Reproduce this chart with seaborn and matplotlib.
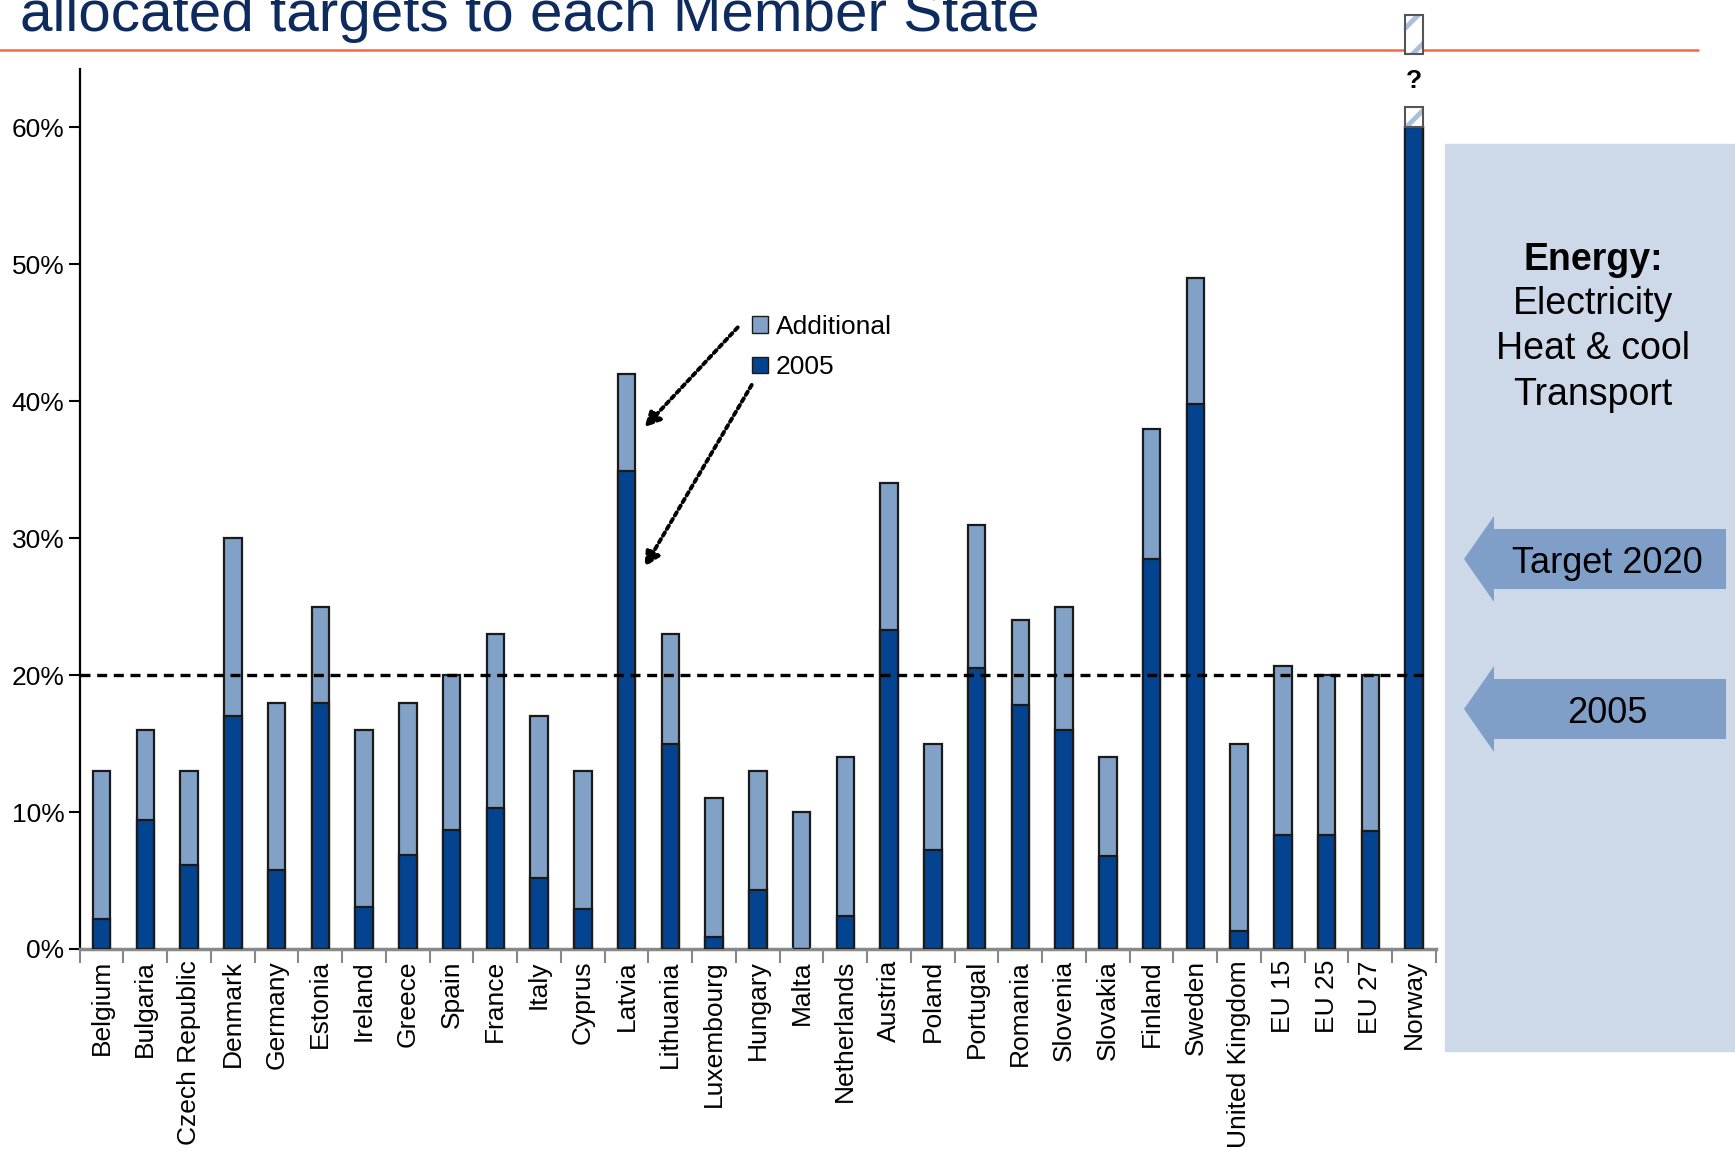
import matplotlib
matplotlib.use('Agg')
import numpy as np
import pandas as pd
import matplotlib.pyplot as plt
import seaborn as sns
from matplotlib.patches import Patch, Rectangle, Polygon
from matplotlib.lines import Line2D

# Data (% renewable share)
countries = ['Belgium', 'Bulgaria', 'Czech Republic', 'Denmark', 'Germany', 'Estonia',
             'Ireland', 'Greece', 'Spain', 'France', 'Italy', 'Cyprus', 'Latvia',
             'Lithuania', 'Luxembourg', 'Hungary', 'Malta', 'Netherlands', 'Austria',
             'Poland', 'Portugal', 'Romania', 'Slovenia', 'Slovakia', 'Finland', 'Sweden',
             'United Kingdom', 'EU 15', 'EU 25', 'EU 27', 'Norway']
share_2005 = [2.2, 9.4, 6.1, 17.0, 5.8, 18.0, 3.1, 6.9, 8.7, 10.3, 5.2, 2.9, 34.9,
              15.0, 0.9, 4.3, 0.0, 2.4, 23.3, 7.2, 20.5, 17.8, 16.0, 6.8, 28.5, 39.8,
              1.3, 8.3, 8.3, 8.6, 60.0]
target_2020 = [13, 16, 13, 30, 18, 25, 16, 18, 20, 23, 17, 13, 42,
               23, 11, 13, 10, 14, 34, 15, 31, 24, 25, 14, 38, 49,
               15, 20.7, 20, 20, 60]
# Norway: target unknown, shown as broken hatched bar
norway_unknown = [(60.0, 61.5), (65.4, 68.2)]
eu_target = 20
yticks = [0, 10, 20, 30, 40, 50, 60]

dark = '#04438F'
light = '#82A1C7'
edge = '#1a1a1a'
arrow_blue = '#7F9FC9'

sns.set_style('white')
plt.rcParams['font.family'] = ['Liberation Sans', 'DejaVu Sans']
plt.rcParams['text.color'] = 'black'
plt.rcParams['xtick.labelcolor'] = 'black'
plt.rcParams['ytick.labelcolor'] = 'black'
plt.rcParams['hatch.linewidth'] = 3.5

W, H = 1735, 1151
fig = plt.figure(figsize=(W / 100, H / 100), dpi=100)
ax = fig.add_axes([79.7 / W, 1 - 949 / H, (1436 - 79.7) / W, (949 - 68.6) / H])

df = pd.DataFrame({'country': countries, 'total': target_2020, 'base': share_2005})
sns.barplot(data=df, x='country', y='total', color=light, saturation=1, width=0.4,
            edgecolor=edge, linewidth=1.6, ax=ax, zorder=2)
sns.barplot(data=df, x='country', y='base', color=dark, saturation=1, width=0.4,
            edgecolor=edge, linewidth=1.6, ax=ax, zorder=3)

# Norway unknown target pieces
nx = countries.index('Norway')
for lo, hi in norway_unknown:
    hb = ax.bar(nx, hi - lo, bottom=lo, width=0.4, color='white', hatch='/',
                edgecolor='#A9C0DD', linewidth=0, zorder=3)
    ob = ax.bar(nx, hi - lo, bottom=lo, width=0.4, fill=False,
                edgecolor='#555555', linewidth=1.5, zorder=4)
    for p in list(hb) + list(ob):
        p.set_clip_on(False)
ax.text(nx, 63.4, '?', ha='center', va='center', fontsize=19, fontweight='bold')

ax.axhline(eu_target, xmin=0, xmax=0.993, color='black', linestyle=(0, (3, 2)),
           lw=2.4, zorder=5)

ax.set_xlim(-0.5, 30.5)
ax.set_ylim(0, 64.3)
ax.set_xlabel('')
ax.set_ylabel('')
ax.set_xticks(range(len(countries)))
ax.set_xticklabels(countries, rotation=90)
ax.set_xticks(np.arange(-0.5, len(countries) + 0.5, 1), minor=True)
ax.tick_params(axis='x', which='major', length=0, pad=8, labelsize=19)
ax.tick_params(axis='x', which='minor', length=10, width=1.5, color='#888888',
               direction='out', bottom=True)
ax.set_yticks(yticks)
ax.set_yticklabels([f'{v}%' for v in yticks])
ax.tick_params(axis='y', length=8, width=1.5, color='black', pad=3, labelsize=19,
               direction='out', left=True)
for s in ['top', 'right']:
    ax.spines[s].set_visible(False)
ax.spines['left'].set_color('black')
ax.spines['left'].set_linewidth(1.6)
ax.spines['bottom'].set_color('#888888')
ax.spines['bottom'].set_linewidth(2.5)

# legend
handles = [Patch(facecolor=light, edgecolor=edge), Patch(facecolor=dark, edgecolor=edge)]
ax.legend(handles, ['Additional', '2005'], loc='upper left',
          bbox_to_anchor=(752 / W, 1 - 315 / H), bbox_transform=fig.transFigure,
          frameon=False, fontsize=19, handlelength=0.6, handleheight=0.6,
          handletextpad=0.3, labelspacing=0.62, borderpad=0, borderaxespad=0)

# dotted pointers from legend to Latvia
arrow_kw = dict(arrowstyle='-|>,head_length=0.9,head_width=0.45', linestyle=(0, (1, 1)),
                lw=2.8, color='black', shrinkA=0, shrinkB=0)
ax.annotate('', xy=(12.41, 38.1), xytext=(14.54, 45.4), arrowprops=arrow_kw, zorder=6)
ax.annotate('', xy=(12.41, 27.9), xytext=(14.86, 41.2), arrowprops=arrow_kw, zorder=6)

# title and rule
fig.text(20 / W, 1 - 31 / H, 'allocated targets to each Member State', fontsize=42,
         color='#0D2B5E', va='baseline', ha='left')
fig.add_artist(Line2D([0, 1698 / W], [1 - 50 / H, 1 - 50 / H], transform=fig.transFigure,
                      color='#F26B43', lw=1.8, zorder=-1))

# right side panel
fig.add_artist(Rectangle((1445 / W, 1 - 1051 / H), 1, 907 / H, transform=fig.transFigure,
                         color='#CDD9E8', zorder=-2))
panel_lines = [('Energy:', 'bold', 260), ('Electricity', 'normal', 304),
               ('Heat & cool', 'normal', 349), ('Transport', 'normal', 395)]
for txt, fw, yp in panel_lines:
    fig.text(1593 / W, 1 - yp / H, txt, fontsize=27, fontweight=fw, ha='center', va='center')


def block_arrow(yc):
    pts = [(1464, yc), (1494, yc - 43), (1494, yc - 30), (1726, yc - 30),
           (1726, yc + 30), (1494, yc + 30), (1494, yc + 43)]
    return Polygon([(x / W, 1 - y / H) for x, y in pts], closed=True,
                   transform=fig.transFigure, facecolor=arrow_blue, edgecolor='none',
                   zorder=-1)


for label, yc in [('Target 2020', 559), ('2005', 709)]:
    fig.add_artist(block_arrow(yc))
    fig.text(1607 / W, 1 - (yc + 4.5) / H, label, fontsize=26, ha='center', va='center')

fig.savefig('out.png', dpi=100)
